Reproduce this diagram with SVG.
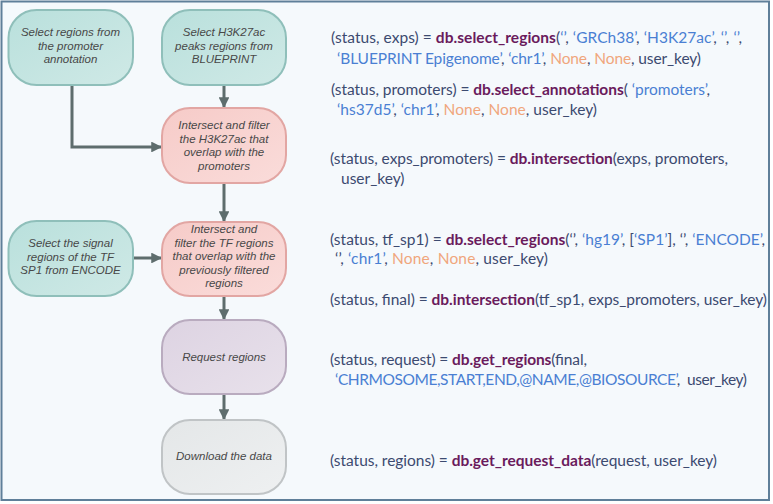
<svg xmlns="http://www.w3.org/2000/svg" width="773" height="504" viewBox="0 0 773 504">
<style>
.nt{font-family:"Liberation Sans",Arial,sans-serif;font-style:italic;font-size:11.5px;fill:#484848;text-anchor:middle}
.code{font-family:Lato,"Open Sans",sans-serif;font-size:15.5px;fill:#3c4a70}
.fn{fill:#6a1b5c;font-weight:bold}
.s{fill:#4a7fd3}
.n{fill:#f0a67c}
.edge{fill:none;stroke:#5e6d6d;stroke-width:3}
.teal{fill:url(#gTeal);stroke:#8fbfba;stroke-width:2}
.pink{fill:url(#gPink);stroke:#e2a6a3;stroke-width:2}
.purp{fill:url(#gPurp);stroke:#b9abbf;stroke-width:2}
.grey{fill:url(#gGrey);stroke:#c0c4c6;stroke-width:2}
</style>
<defs>
<linearGradient id="gTeal" x1="0" y1="0" x2="1" y2="1"><stop offset="0" stop-color="#b9e0dc"/><stop offset="1" stop-color="#cfe9e6"/></linearGradient>
<linearGradient id="gPink" x1="0" y1="0" x2="1" y2="1"><stop offset="0" stop-color="#f6cbc8"/><stop offset="1" stop-color="#fadcda"/></linearGradient>
<linearGradient id="gPurp" x1="0" y1="0" x2="1" y2="1"><stop offset="0" stop-color="#ddd3e2"/><stop offset="1" stop-color="#e8e1eb"/></linearGradient>
<linearGradient id="gGrey" x1="0" y1="0" x2="1" y2="1"><stop offset="0" stop-color="#e4e7e8"/><stop offset="1" stop-color="#eef0f1"/></linearGradient>
<marker id="ah" viewBox="0 0 10 10" refX="9" refY="5" markerWidth="3.6" markerHeight="3.6" orient="auto" markerUnits="strokeWidth"><path d="M0,0 L10,5 L0,10 z" fill="#5e6d6d"/></marker>
</defs>
<rect x="0" y="0" width="773" height="504" fill="#ffffff"/>
<rect x="1.5" y="1.5" width="767.5" height="498.5" fill="#f5f9fc" stroke="#5f7f99" stroke-width="2"/>

<g id="connectors">
<path class="edge" d="M224,86 L224,107" marker-end="url(#ah)"/>
<path class="edge" d="M72,86 L72,147 L161,147" marker-end="url(#ah)"/>
<path class="edge" d="M224,184 L224,221" marker-end="url(#ah)"/>
<path class="edge" d="M134,258 L161,258" marker-end="url(#ah)"/>
<path class="edge" d="M224,297 L224,319" marker-end="url(#ah)"/>
<path class="edge" d="M224,395 L224,419" marker-end="url(#ah)"/>
</g>

<g id="n1">
<rect class="teal" x="8.5" y="10" width="124.5" height="75" rx="28" ry="28"/>
<text class="nt" x="70.5" y="36">Select regions from</text>
<text class="nt" x="70.5" y="49.5">the promoter</text>
<text class="nt" x="70.5" y="63">annotation</text>
</g>
<g id="n2">
<rect class="teal" x="162" y="10" width="124" height="75" rx="28" ry="28"/>
<text class="nt" x="224" y="36">Select H3K27ac</text>
<text class="nt" x="224" y="49.5">peaks regions from</text>
<text class="nt" x="224" y="63">BLUEPRINT</text>
</g>
<g id="n3">
<rect class="pink" x="162" y="108" width="124" height="75" rx="28" ry="28"/>
<text class="nt" x="224" y="129">Intersect and filter</text>
<text class="nt" x="224" y="142.5">the H3K27ac that</text>
<text class="nt" x="224" y="156">overlap with the</text>
<text class="nt" x="224" y="169.5">promoters</text>
</g>
<g id="n4">
<rect class="teal" x="8.5" y="221" width="124.5" height="75" rx="28" ry="28"/>
<text class="nt" x="70.5" y="247">Select the signal</text>
<text class="nt" x="70.5" y="260.5">regions of the TF</text>
<text class="nt" x="70.5" y="274">SP1 from ENCODE</text>
</g>
<g id="n5">
<rect class="pink" x="162" y="222" width="124" height="74" rx="28" ry="28"/>
<text class="nt" x="224" y="233">Intersect and</text>
<text class="nt" x="224" y="246.5">filter the TF regions</text>
<text class="nt" x="224" y="260">that overlap with the</text>
<text class="nt" x="224" y="273.5">previously filtered</text>
<text class="nt" x="224" y="287">regions</text>
</g>
<g id="n6">
<rect class="purp" x="162" y="320" width="124" height="74" rx="28" ry="28"/>
<text class="nt" x="224" y="360.5">Request regions</text>
</g>
<g id="n7">
<rect class="grey" x="162" y="420" width="124" height="74" rx="28" ry="28"/>
<text class="nt" x="224" y="459.5">Download the data</text>
</g>

<g id="code">
<text class="code" x="331" y="43" textLength="411">(status, exps) = <tspan class="fn">db.select_regions</tspan>(<tspan class="s">‘’</tspan>, <tspan class="s">‘GRCh38’</tspan>, <tspan class="s">‘H3K27ac’</tspan>, <tspan class="s">‘’</tspan>, <tspan class="s">‘’</tspan>,</text>
<text class="code" x="337" y="64" textLength="364"><tspan class="s">‘BLUEPRINT Epigenome’</tspan>, <tspan class="s">‘chr1’</tspan>, <tspan class="n">None</tspan>, <tspan class="n">None</tspan>, user_key)</text>
<text class="code" x="331" y="95" textLength="379">(status, promoters) = <tspan class="fn">db.select_annotations</tspan>( <tspan class="s">‘promoters’</tspan>,</text>
<text class="code" x="337" y="115" textLength="260"><tspan class="s">‘hs37d5’</tspan>, <tspan class="s">‘chr1’</tspan>, <tspan class="n">None</tspan>, <tspan class="n">None</tspan>, user_key)</text>
<text class="code" x="330" y="164" textLength="398">(status, exps_promoters) = <tspan class="fn">db.intersection</tspan>(exps, promoters,</text>
<text class="code" x="341" y="184">user_key)</text>
<text class="code" x="330" y="245" textLength="435">(status, tf_sp1) = <tspan class="fn">db.select_regions</tspan>(‘’, <tspan class="s">‘hg19’</tspan>, [<tspan class="s">‘SP1’</tspan>], ‘’, <tspan class="s">‘ENCODE’</tspan>,</text>
<text class="code" x="335" y="264" textLength="213">‘’, <tspan class="s">‘chr1’</tspan>, <tspan class="n">None</tspan>, <tspan class="n">None</tspan>, user_key)</text>
<text class="code" x="330" y="305" textLength="437">(status, final) = <tspan class="fn">db.intersection</tspan>(tf_sp1, exps_promoters, user_key)</text>
<text class="code" x="330" y="365" textLength="257">(status, request) = <tspan class="fn">db.get_regions</tspan>(final,</text>
<text class="code" x="335" y="385" textLength="412" xml:space="preserve"><tspan class="s">‘CHRMOSOME,START,END,@NAME,@BIOSOURCE’</tspan>,  user_key)</text>
<text class="code" x="330" y="466" textLength="387">(status, regions) = <tspan class="fn">db.get_request_data</tspan>(request, user_key)</text>
</g>
</svg>
